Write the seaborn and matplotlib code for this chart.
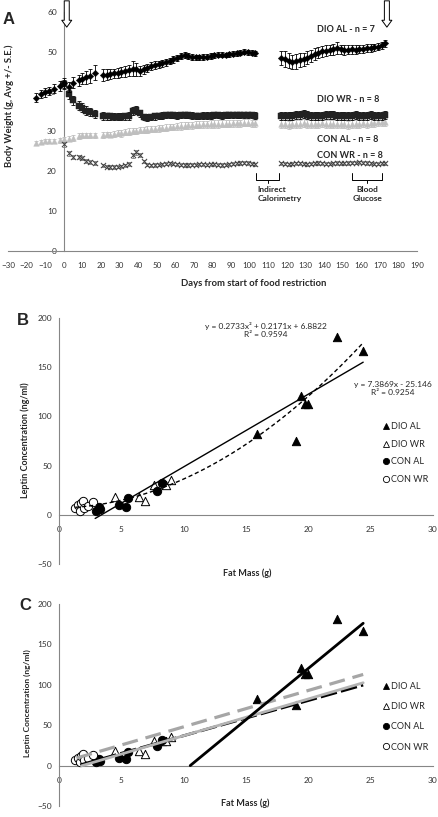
import numpy as np
import matplotlib
matplotlib.use("Agg")
import matplotlib.pyplot as plt
import seaborn as sns
from matplotlib.lines import Line2D

sns.set_style("white")
plt.rcParams['font.family'] = ['Lato', 'DejaVu Sans']

W, H = 439, 817

# ---------------- Panel A : body weight over time ----------------
days_pre = [-15, -12, -10, -8, -5, -2, 0]
days_early = [3, 5, 8, 10, 12, 14, 17]
days_mid = list(range(21, 104, 2))
days_late = list(range(117, 174, 2))
days_al = days_pre + days_early + days_mid + days_late
days_wr = [0] + days_early + days_mid + days_late

dio_al = [38.5, 39.3, 39.8, 40.1, 40.7, 41.4, 42.1,
          41.2, 42.3, 42.9, 43.3, 43.6, 43.9, 44.8,
          44.2, 44.3, 44.4, 44.6, 44.7, 44.9, 45.1, 45.4, 45.8, 45.6,
          45.2, 45.6, 46.0, 46.5, 46.7, 46.9, 47.1, 47.4, 47.7, 48.1,
          48.5, 48.9, 49.2, 49.0, 48.7, 48.6, 48.6, 48.7, 48.8, 48.9,
          49.1, 49.3, 49.3, 49.2, 49.4, 49.5, 49.6, 49.8, 50.0, 49.9,
          49.8, 49.6,
          48.5, 48.2, 47.8, 47.5, 47.6, 47.9, 48.1, 48.5, 49.0, 49.4,
          49.8, 50.1, 50.3, 50.5, 50.6, 50.9, 50.6, 50.4, 50.5, 50.6,
          50.5, 50.6, 50.7, 50.9, 51.0, 51.1, 51.3, 51.6, 52.1]
dio_al_se = [1.1, 1.0, 1.1, 1.0, 1.1, 1.2, 1.3,
             1.2, 1.3, 1.4, 1.5, 1.6, 1.7, 1.8,
             1.4, 1.3, 1.3, 1.2, 1.2, 1.2, 1.3, 1.4, 1.8, 1.6,
             1.2, 1.1, 1.0, 1.0, 1.0, 0.9, 0.9, 0.9, 0.8, 0.8,
             0.8, 0.8, 0.8, 0.7, 0.7, 0.7, 0.7, 0.7, 0.7, 0.7,
             0.6, 0.6, 0.6, 0.6, 0.6, 0.6, 0.6, 0.6, 0.6, 0.6,
             0.6, 0.6,
             1.8, 1.9, 1.9, 1.8, 1.8, 1.7, 1.7, 1.6, 1.5, 1.5,
             1.4, 1.4, 1.3, 1.3, 1.3, 1.5, 1.2, 1.2, 1.1, 1.1,
             1.1, 1.0, 1.0, 1.0, 1.0, 0.9, 0.9, 0.9, 0.9]

dio_wr = [41.8, 39.3, 37.8, 36.5, 36.0, 35.2, 34.9, 34.4,
          33.9, 33.8, 33.8, 33.7, 33.7, 33.7, 33.8, 34.0, 35.2, 35.3,
          34.6, 33.6, 33.5, 33.7, 33.8, 33.9, 34.0, 34.1, 34.2, 34.1,
          34.0, 34.1, 34.2, 34.1, 34.0, 33.9, 33.9, 34.0, 34.0, 34.0,
          34.1, 34.1, 34.0, 34.1, 34.2, 34.2, 34.1, 34.1, 34.2, 34.2,
          34.1, 34.0,
          34.0, 33.9, 33.8, 33.9, 34.1, 34.2, 34.3, 34.2, 34.0, 33.9,
          33.9, 34.0, 34.1, 34.2, 34.1, 34.0, 33.9, 33.8, 33.9, 34.0,
          34.1, 34.0, 33.9, 34.0, 34.1, 34.0, 33.9, 34.0, 34.1]
dio_wr_se = [1.2, 1.1, 1.2, 1.2, 1.2, 1.1, 1.1, 1.0,
             0.9, 0.9, 0.9, 0.9, 0.9, 0.9, 0.9, 1.0, 1.0, 1.0,
             0.9, 0.8, 0.8, 0.8, 0.8, 0.8, 0.8, 0.8, 0.8, 0.8,
             0.8, 0.8, 0.8, 0.8, 0.8, 0.8, 0.8, 0.8, 0.8, 0.8,
             0.8, 0.8, 0.8, 0.8, 0.8, 0.8, 0.8, 0.8, 0.8, 0.8,
             0.8, 0.8,
             1.0, 1.0, 1.0, 1.0, 1.0, 1.0, 1.0, 1.0, 1.0, 1.0,
             1.0, 1.0, 1.0, 1.0, 1.0, 1.0, 1.0, 1.0, 1.0, 1.0,
             1.0, 1.0, 1.0, 1.0, 1.0, 1.0, 1.0, 1.0, 1.0]

con_al = [27.2, 27.4, 27.5, 27.6, 27.5, 27.8, 28.0,
          28.2, 28.4, 28.8, 29.0, 29.0, 29.0, 29.0,
          29.1, 29.3, 29.2, 29.4, 29.6, 29.5, 29.8, 30.0, 30.1, 30.2,
          30.3, 30.4, 30.5, 30.6, 30.7, 30.8, 30.9, 31.0, 31.1, 31.2,
          31.3, 31.4, 31.5, 31.6, 31.6, 31.7, 31.7, 31.8, 31.8, 31.9,
          31.9, 31.9, 32.0, 32.0, 32.0, 32.1, 32.1, 32.1, 32.2, 32.2,
          32.1, 32.1,
          31.9, 31.8, 31.7, 31.8, 31.9, 32.0, 32.1, 31.9, 31.8, 31.9,
          32.0, 32.1, 32.0, 31.9, 31.8, 31.9, 32.0, 31.8, 31.7, 31.8,
          31.9, 32.0, 32.1, 32.0, 32.1, 32.2, 32.3, 32.4, 32.5]
con_al_se = [0.5, 0.5, 0.5, 0.6, 0.5, 0.6, 0.6,
             0.6, 0.7, 0.7, 0.7, 0.7, 0.7, 0.7,
             0.7, 0.7, 0.7, 0.7, 0.7, 0.8, 0.8, 0.8, 0.8, 0.8,
             0.8, 0.8, 0.8, 0.8, 0.8, 0.8, 0.8, 0.8, 0.8, 0.8,
             0.9, 0.9, 0.9, 0.9, 0.9, 0.9, 0.9, 0.9, 0.9, 0.9,
             0.9, 0.9, 0.9, 0.9, 0.9, 0.9, 0.9, 0.9, 0.9, 0.9,
             0.9, 0.9,
             1.0, 1.0, 1.0, 1.0, 1.0, 1.0, 1.0, 1.0, 1.0, 1.0,
             1.0, 1.0, 1.0, 1.0, 1.0, 1.0, 1.0, 1.0, 1.0, 1.0,
             1.0, 1.0, 1.0, 1.0, 1.0, 1.0, 1.0, 1.0, 1.0]

con_wr = [26.8, 24.5, 23.6, 23.5, 23.4, 22.6, 22.4, 22.0,
          21.5, 21.2, 21.1, 21.1, 21.2, 21.3, 21.5, 21.8, 24.0, 24.8,
          24.0, 22.5, 21.7, 21.5, 21.6, 21.7, 21.8, 21.9, 22.0, 21.9,
          21.8, 21.7, 21.6, 21.6, 21.7, 21.7, 21.8, 21.8, 21.7, 21.8,
          21.8, 21.7, 21.6, 21.7, 21.8, 21.9, 22.0, 22.1, 22.2, 22.1,
          21.9, 21.8,
          22.0, 21.9, 21.8, 21.9, 22.0, 22.0, 21.9, 21.8, 21.9, 22.0,
          22.1, 22.0, 21.9, 21.9, 22.0, 22.1, 22.0, 22.0, 22.1, 22.2,
          22.2, 22.3, 22.2, 22.1, 22.0, 21.9, 21.9, 22.0, 22.0]
con_wr_se = [0.6, 0.6, 0.6, 0.5, 0.5, 0.5, 0.5, 0.5,
             0.4, 0.4, 0.4, 0.4, 0.4, 0.4, 0.4, 0.5, 0.6, 0.6,
             0.5, 0.4, 0.4, 0.4, 0.4, 0.4, 0.4, 0.4, 0.4, 0.4,
             0.4, 0.4, 0.4, 0.4, 0.4, 0.4, 0.4, 0.4, 0.4, 0.4,
             0.4, 0.4, 0.4, 0.4, 0.4, 0.4, 0.4, 0.4, 0.4, 0.4,
             0.4, 0.4,
             0.4, 0.4, 0.4, 0.4, 0.4, 0.4, 0.4, 0.4, 0.4, 0.4,
             0.4, 0.4, 0.4, 0.4, 0.4, 0.4, 0.4, 0.4, 0.4, 0.4,
             0.4, 0.4, 0.4, 0.4, 0.4, 0.4, 0.4, 0.4, 0.4]

group_labels = ["DIO AL - n = 7", "DIO WR - n = 8", "CON AL - n = 8", "CON WR - n = 8"]

# ---------------- Panels B / C : leptin vs fat mass ----------------
groups = ["DIO AL", "DIO WR", "CON AL", "CON WR"]
fat = {
    "DIO AL": [15.9, 19.0, 19.4, 19.7, 20.0, 22.3, 24.4],
    "DIO WR": [4.5, 6.4, 6.9, 7.6, 8.3, 8.6, 9.0],
    "CON AL": [3.0, 3.2, 3.3, 4.8, 5.4, 5.5, 7.9, 8.3],
    "CON WR": [1.3, 1.5, 1.7, 1.8, 1.9, 2.0, 2.3, 2.7],
}
leptin = {
    "DIO AL": [82, 75, 121, 113, 113, 181, 166],
    "DIO WR": [18, 18, 14, 30, 31, 30, 35],
    "CON AL": [4, 8, 6, 10, 8, 17, 24, 32],
    "CON WR": [7, 10, 4, 12, 14, 7, 9, 13],
}
quad_coef = [0.2733, 0.2171, 6.8822]
lin_coef = [7.3869, -25.146]
eq_quad = "y = 0.2733x\u00b2 + 0.2171x + 6.8822\nR\u00b2 = 0.9594"
eq_lin = "y = 7.3869x - 25.146\nR\u00b2 = 0.9254"

# panel C trend lines for the restricted / control groups (slope, intercept, x range)
c_lines = {
    "grey_dash": (4.5, 3.0, 1.4, 24.4),
    "black_dash": (4.35, -6.5, 1.7, 24.4),
    "grey_solid": (4.55, -8.5, 1.8, 24.4),
}

styles = {
    "DIO AL": dict(marker="^", color="black", edgecolor="black"),
    "DIO WR": dict(marker="^", color="white", edgecolor="black"),
    "CON AL": dict(marker="o", color="black", edgecolor="black"),
    "CON WR": dict(marker="o", color="white", edgecolor="black"),
}

SPINE = "#868686"
TXT = "#333333"

fig = plt.figure(figsize=(W / 100, H / 100), dpi=100)


def box(l, t, r, b):
    return [l / W, 1 - b / H, (r - l) / W, (b - t) / H]


def ftext(x, y, s, **kw):
    fig.text(x / W, 1 - y / H, s, **kw)


def style_axes(ax):
    for s in ["top", "right"]:
        ax.spines[s].set_visible(False)
    for s in ["left", "bottom"]:
        ax.spines[s].set_color(SPINE)
        ax.spines[s].set_linewidth(0.8)
    ax.tick_params(direction="out", length=3, width=0.6, color=SPINE,
                   labelsize=6, labelcolor=TXT, pad=2)
    ax.tick_params(axis="x", pad=5)


# ---- Panel A
axA = fig.add_axes(box(8, 12, 417, 251))
axA.set_xlim(-30, 190)
axA.set_ylim(0, 60)
style_axes(axA)
axA.tick_params(axis="x", labelsize=5.8)
axA.spines["left"].set_position(("data", 0))
axA.set_xticks(range(-30, 191, 10))
axA.set_yticks(range(0, 61, 10))

axA.errorbar(days_al, con_al, yerr=con_al_se, fmt="none", ecolor="#bfbfbf",
             elinewidth=0.6, capsize=1.3, capthick=0.6, zorder=2)
sns.scatterplot(x=days_al, y=con_al, marker="^", s=16, color="#bfbfbf",
                edgecolor="#bfbfbf", ax=axA, zorder=3, legend=False)
axA.errorbar(days_wr, con_wr, yerr=con_wr_se, fmt="none", ecolor="#808080",
             elinewidth=0.6, capsize=1.3, capthick=0.6, zorder=4)
sns.scatterplot(x=days_wr, y=con_wr, marker="x", s=14, color="#404040",
                linewidth=0.7, ax=axA, zorder=5, legend=False)
axA.errorbar(days_wr, dio_wr, yerr=dio_wr_se, fmt="none", ecolor="black",
             elinewidth=0.6, capsize=1.3, capthick=0.6, zorder=6)
sns.scatterplot(x=days_wr, y=dio_wr, marker="s", s=18, color="#222222",
                edgecolor="#222222", ax=axA, zorder=7, legend=False)
axA.errorbar(days_al, dio_al, yerr=dio_al_se, fmt="none", ecolor="black",
             elinewidth=0.6, capsize=1.3, capthick=0.6, zorder=8)
sns.scatterplot(x=days_al, y=dio_al, marker="D", s=11, color="black",
                edgecolor="black", ax=axA, zorder=9, legend=False)

for lab, yy in zip(group_labels, [55.7, 38.1, 28.0, 24.1]):
    axA.text(136, yy, lab, fontsize=6.5, weight="bold", ha="left", va="center")

# arrows marking start and end
for xa in [1.6, 173.8]:
    axA.annotate("", xy=(xa, 56.2), xytext=(xa, 62.8), annotation_clip=False,
                 arrowprops=dict(arrowstyle="simple,head_length=0.55,head_width=0.8,tail_width=0.4",
                                 fc="white", ec="black", lw=0.7, mutation_scale=9,
                                 shrinkA=0, shrinkB=0))

# brackets
for x0, x1, lab, ha, xt in [(103.5, 116.0, "Indirect\nCalorimetry", "left", 104.3),
                            (155.2, 171.2, "Blood\nGlucose", "center", 163.2)]:
    xm = (x0 + x1) / 2
    axA.plot([x0, x0, x1, x1], [19.7, 17.8, 17.8, 19.7], color="black", lw=0.7)
    axA.plot([xm, xm], [17.8, 17.0], color="black", lw=0.7)
    axA.text(xt, 16.3, lab, fontsize=6, weight="bold", ha=ha, va="top",
             multialignment=ha, linespacing=1.3)

ftext(9, 19, "A", fontsize=12, weight="bold", family="Liberation Sans", ha="center", va="center")
ftext(9, 106, "Body Weight (g, Avg +/- S.E.)", fontsize=6.8, weight="bold",
      rotation=90, ha="center", va="center")
ftext(254, 284, "Days from start of food restriction", fontsize=6.8, weight="bold",
      ha="center", va="center")


# ---- Panels B and C
def leptin_axes(rect):
    ax = fig.add_axes(rect)
    ax.set_xlim(0, 30)
    ax.set_ylim(-50, 200)
    style_axes(ax)
    ax.spines["bottom"].set_position(("data", 0))
    ax.set_xticks(range(0, 31, 5))
    ax.set_yticks(range(-50, 201, 50))
    for g in groups:
        st = styles[g]
        sns.scatterplot(x=fat[g], y=leptin[g], marker=st["marker"], s=36,
                        color=st["color"], edgecolor=st["edgecolor"], linewidth=0.7,
                        ax=ax, zorder=3, legend=False)
    return ax


def leptin_legend(ax, ycenter, spacing):
    handles = [Line2D([], [], ls="", marker=styles[g]["marker"], markersize=4.5,
                      markerfacecolor=styles[g]["color"], markeredgecolor="black",
                      markeredgewidth=0.6) for g in groups]
    ax.legend(handles, groups, loc="center left", bbox_to_anchor=(0.864, ycenter),
              frameon=False, fontsize=6.5, handlelength=0.8, handletextpad=0.2,
              labelspacing=spacing, borderpad=0, borderaxespad=0)


axB = leptin_axes(box(59, 318, 433, 564))
xl = np.linspace(2.9, 24.4, 50)
axB.plot(xl, np.polyval(lin_coef, xl), color="black", lw=1.0, zorder=4)
xq = np.linspace(1.3, 24.4, 80)
axB.plot(xq, np.polyval(quad_coef, xq), color="black", lw=1.0, ls=(0, (3, 2)), zorder=4)
axB.text(16.6, 188, eq_quad, fontsize=6, ha="center", va="center", linespacing=1.2)
axB.text(26.8, 128, eq_lin, fontsize=6, ha="center", va="center", linespacing=1.2)
leptin_legend(axB, 0.451, 0.95)

ftext(23, 320, "B", fontsize=12, weight="bold", family="Liberation Sans", ha="center", va="center")
ftext(25, 440, "Leptin Concentration (ng/ml)", fontsize=6.5, weight="bold",
      rotation=90, ha="center", va="center")
ftext(247, 573, "Fat Mass (g)", fontsize=6.5, weight="bold", ha="center", va="center")

axC = leptin_axes(box(59, 604, 433, 806))
m, b = np.polyfit(fat["DIO AL"], leptin["DIO AL"], 1)
xd = np.linspace(-b / m, max(fat["DIO AL"]), 20)
axC.plot(xd, m * xd + b, color="black", lw=2.0, zorder=5)
line_style = {
    "grey_dash": dict(color="#a6a6a6", ls=(0, (5, 2.5)), lw=2.3),
    "black_dash": dict(color="black", ls=(0, (6, 1.5)), lw=2.0),
    "grey_solid": dict(color="#b3b3b3", ls="-", lw=2.0),
}
for key in ["grey_dash", "black_dash", "grey_solid"]:
    sl, ic, x0, x1 = c_lines[key]
    xs = np.array([x0, x1])
    axC.plot(xs, sl * xs + ic, zorder=4, **line_style[key])
leptin_legend(axC, 0.442, 1.25)

ftext(25, 606, "C", fontsize=12, weight="bold", family="Liberation Sans", ha="center", va="center")
ftext(27, 703, "Leptin Concentration (ng/ml)", fontsize=6, weight="bold",
      rotation=90, ha="center", va="center")
ftext(245, 803, "Fat Mass (g)", fontsize=6.5, weight="bold", ha="center", va="center")

fig.savefig("out.png", dpi=100)
